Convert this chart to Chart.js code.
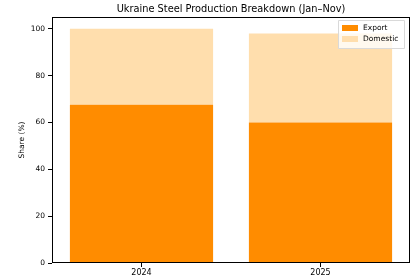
<!DOCTYPE html>
<html><head><meta charset="utf-8">
<script src="https://cdn.jsdelivr.net/npm/chart.js@4/dist/chart.umd.min.js"></script>
<style>html,body{margin:0;padding:0;background:#fff}#wrap{width:420px;height:280px}</style>
</head><body><div id="wrap"><canvas id="c"></canvas></div>
<script>
const categories = ["2024", "2025"];
const exportShare = [67.5, 60];
const domesticShare = [32.5, 38];
const yTicks = [0, 20, 40, 60, 80, 100];
const titleText = "Ukraine Steel Production Breakdown (Jan\u2013Nov)";
const FONT = "'DejaVu Sans', sans-serif";

const boxPlugin = {
  id: 'box',
  afterDraw(chart) {
    const {ctx, chartArea: a} = chart;
    ctx.save();
    ctx.strokeStyle = '#000'; ctx.lineWidth = 1;
    ctx.strokeRect(Math.round(a.left) + 0.5, Math.round(a.top) + 0.5, Math.round(a.right - a.left) - 1, Math.round(a.bottom - a.top) - 1);
    // title
    ctx.fillStyle = '#000';
    ctx.font = "9.8px " + FONT;
    ctx.textAlign = 'center'; ctx.textBaseline = 'middle';
    ctx.fillText(titleText, (a.left + a.right) / 2, 9);
    // legend
    const ds = chart.data.datasets;
    const lx = a.right - 72, ly = a.top + 3, lw = 66, lh = 28;
    ctx.fillStyle = 'rgba(255,255,255,0.8)';
    ctx.strokeStyle = '#d9d9d9';
    ctx.beginPath();
    ctx.rect(lx + 0.5, ly + 0.5, lw, lh);
    ctx.fill(); ctx.stroke();
    ctx.font = "7.5px " + FONT;
    ctx.textAlign = 'left';
    ds.forEach((d, i) => {
      const y = ly + 8 + i * 11;
      ctx.fillStyle = d.backgroundColor;
      ctx.fillRect(lx + 4, y - 3, 16, 6);
      ctx.fillStyle = '#000';
      ctx.fillText(d.label, lx + 25, y);
    });
    ctx.restore();
  }
};

new Chart(document.getElementById('c'), {
  type: 'bar',
  data: {
    labels: categories,
    datasets: [
      {label: 'Export', data: exportShare, backgroundColor: '#FF8C00'},
      {label: 'Domestic', data: domesticShare, backgroundColor: '#FFDEAD'}
    ]
  },
  options: {
    responsive: true, maintainAspectRatio: false, animation: false,
    layout: {padding: {top: 17, right: 10, bottom: 0, left: 0}},
    plugins: {legend: {display: false}, title: {display: false}, tooltip: {enabled: false}},
    datasets: {bar: {barPercentage: 0.8, categoryPercentage: 1.0}},
    scales: {
      x: {
        stacked: true,
        offset: true,
        grid: {display: true, drawOnChartArea: false, drawTicks: true, tickLength: 4, color: '#000', offset: false},
        border: {display: false},
        ticks: {color: '#000', font: {family: FONT, size: 8}, padding: 1},
        afterFit(s) { s.height = 17; }
      },
      y: {
        stacked: true,
        min: 0, max: 105,
        afterBuildTicks(s) { s.ticks = yTicks.map(v => ({value: v})); },
        grid: {display: true, drawOnChartArea: false, drawTicks: true, tickLength: 4, color: '#000'},
        border: {display: false},
        ticks: {color: '#000', font: {family: FONT, size: 7.5}, padding: 3},
        title: {display: true, text: 'Share (%)', color: '#000', font: {family: FONT, size: 7.5}, padding: {top: 18, bottom: 0}},
        afterFit(s) { s.width = 52; }
      }
    }
  },
  plugins: [boxPlugin]
});
</script></body></html>
